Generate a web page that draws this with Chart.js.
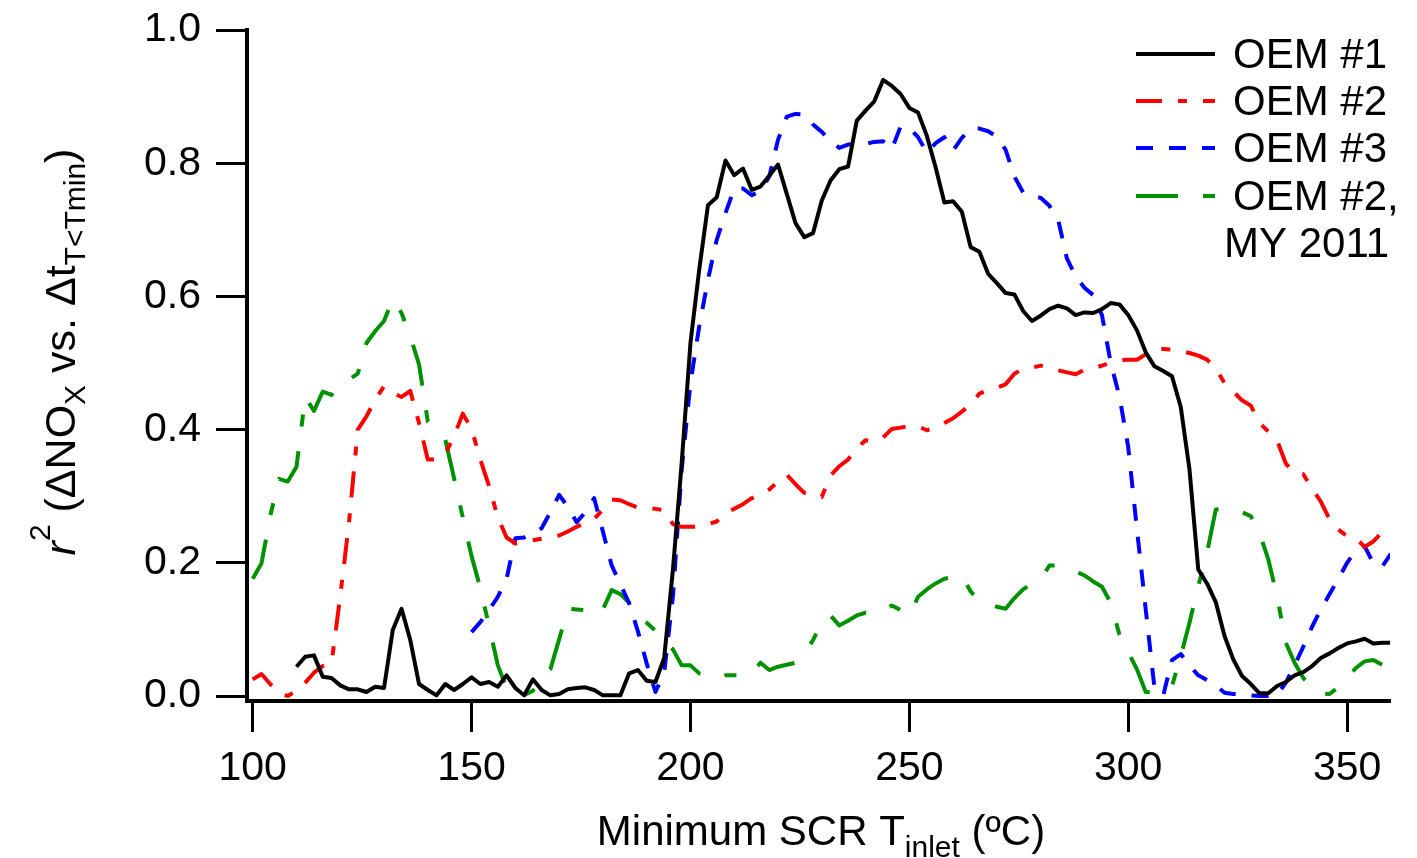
<!DOCTYPE html>
<html>
<head>
<meta charset="utf-8">
<script src="https://cdn.jsdelivr.net/npm/chart.js@4/dist/chart.umd.min.js"></script>
<style>
  html, body { margin: 0; padding: 0; background: #fff; }
  #chart { display: block; }
</style>
</head>
<body>
<canvas id="chart" width="1417" height="858"></canvas>
<script>
// minimum SCR inlet temperature (ºC), 2 degree steps
const temps = [
  100, 102, 104, 106, 108, 110, 112, 114, 116, 118, 120, 122, 124, 126, 128, 130, 132, 134, 136, 138,
  140, 142, 144, 146, 148, 150, 152, 154, 156, 158, 160, 162, 164, 166, 168, 170, 172, 174, 176, 178,
  180, 182, 184, 186, 188, 190, 192, 194, 196, 198, 200, 202, 204, 206, 208, 210, 212, 214, 216, 218,
  220, 222, 224, 226, 228, 230, 232, 234, 236, 238, 240, 242, 244, 246, 248, 250, 252, 254, 256, 258,
  260, 262, 264, 266, 268, 270, 272, 274, 276, 278, 280, 282, 284, 286, 288, 290, 292, 294, 296, 298,
  300, 302, 304, 306, 308, 310, 312, 314, 316, 318, 320, 322, 324, 326, 328, 330, 332, 334, 336, 338,
  340, 342, 344, 346, 348, 350, 352, 354, 356, 358, 360
];

// r^2 values, null where the series has no data
const oem1 = [
  null, null, null, null, null, 0.044, 0.059, 0.061, 0.029, 0.027,
  0.016, 0.010, 0.010, 0.006, 0.014, 0.012, 0.099, 0.131, 0.084, 0.018,
  0.009, 0.001, 0.018, 0.009, 0.018, 0.028, 0.018, 0.021, 0.014, 0.031,
  0.012, 0.001, 0.025, 0.009, 0.001, 0.003, 0.010, 0.012, 0.013, 0.009,
  0.001, 0.001, 0.001, 0.034, 0.039, 0.023, 0.021, 0.057, 0.190, 0.350,
  0.530, 0.640, 0.737, 0.749, 0.804, 0.782, 0.792, 0.760, 0.765, 0.781,
  0.798, 0.754, 0.710, 0.689, 0.695, 0.744, 0.774, 0.791, 0.795, 0.864,
  0.879, 0.893, 0.925, 0.916, 0.904, 0.883, 0.876, 0.841, 0.794, 0.741,
  0.743, 0.727, 0.674, 0.667, 0.634, 0.620, 0.605, 0.603, 0.578, 0.563,
  0.571, 0.581, 0.586, 0.582, 0.572, 0.576, 0.575, 0.581, 0.590, 0.588,
  0.572, 0.549, 0.516, 0.495, 0.488, 0.480, 0.434, 0.340, 0.190, 0.169,
  0.141, 0.090, 0.055, 0.030, 0.018, 0.004, 0.004, 0.015, 0.021, 0.031,
  0.036, 0.045, 0.057, 0.064, 0.072, 0.079, 0.082, 0.086, 0.079, 0.080,
  0.080
];

const oem2 = [
  0.025, 0.033, 0.018, 0.005, 0.000, 0.008, 0.020, 0.035, 0.045, 0.049,
  0.150, 0.260, 0.400, 0.420, 0.445, 0.465, 0.455, 0.449, 0.458, 0.410,
  0.355, 0.355, 0.364, 0.390, 0.424, 0.401, 0.355, 0.315, 0.268, 0.238,
  0.229, 0.231, 0.234, 0.236, 0.238, 0.241, 0.247, 0.254, 0.260, 0.266,
  0.280, 0.295, 0.294, 0.288, 0.283, 0.283, 0.281, 0.279, 0.258, 0.254,
  0.254, 0.254, 0.258, 0.262, 0.275, 0.281, 0.288, 0.297, 0.303, 0.310,
  0.322, 0.332, 0.318, 0.305, 0.302, 0.299, 0.331, 0.345, 0.355, 0.372,
  0.384, 0.382, 0.388, 0.401, 0.403, 0.405, 0.405, 0.399, 0.404, 0.410,
  0.417, 0.427, 0.438, 0.454, 0.459, 0.463, 0.468, 0.484, 0.491, 0.493,
  0.496, 0.493, 0.489, 0.486, 0.483, 0.490, 0.492, 0.496, 0.501, 0.504,
  0.505, 0.505, 0.513, 0.521, 0.521, 0.520, 0.518, 0.515, 0.511, 0.505,
  0.492, 0.470, 0.457, 0.444, 0.436, 0.410, 0.397, 0.384, 0.349, 0.335,
  0.333, 0.311, 0.292, 0.265, 0.250, 0.240, 0.237, 0.224, 0.232, 0.246,
  null
];

const oem3 = [
  null, null, null, null, null, null, null, null, null, null,
  null, null, null, null, null, null, null, null, null, null,
  null, null, null, null, null, 0.096, 0.111, 0.129, 0.149, 0.176,
  0.237, 0.238, 0.244, 0.252, 0.276, 0.302, 0.284, 0.261, 0.276, 0.297,
  0.247, 0.196, 0.168, 0.139, 0.097, 0.049, 0.006, 0.035, 0.150, 0.340,
  0.470, 0.555, 0.625, 0.685, 0.725, 0.762, 0.762, 0.752, 0.758, 0.780,
  0.835, 0.870, 0.874, 0.873, 0.858, 0.847, 0.833, 0.823, 0.828, 0.829,
  0.829, 0.832, 0.833, 0.821, 0.855, 0.853, 0.839, 0.816, 0.830, 0.839,
  0.819, 0.838, 0.852, 0.852, 0.848, 0.840, 0.820, 0.780, 0.756, 0.751,
  0.748, 0.736, 0.715, 0.657, 0.630, 0.613, 0.602, 0.572, 0.500, 0.450,
  0.374, 0.250, 0.130, 0.012, 0.001, 0.054, 0.063, 0.046, 0.031, 0.024,
  0.016, 0.005, 0.003, 0.003, 0.001, 0.000, 0.000, 0.001, 0.020, 0.046,
  0.074, 0.104, 0.130, 0.153, 0.176, 0.200, 0.219, 0.225, 0.199, 0.194,
  0.214
];

const oem2my2011 = [
  0.176, 0.199, 0.270, 0.326, 0.322, 0.344, 0.449, 0.428, 0.457, 0.452,
  0.468, 0.475, 0.484, 0.530, 0.548, 0.563, 0.596, 0.575, 0.540, 0.498,
  0.412, 0.400, 0.385, 0.327, 0.268, 0.210, 0.162, 0.105, 0.046, 0.012,
  0.004, 0.001, 0.008, 0.022, 0.040, 0.085, 0.131, 0.130, 0.129, 0.121,
  0.130, 0.159, 0.153, 0.140, 0.119, 0.110, 0.098, 0.080, 0.070, 0.046,
  0.046, 0.034, 0.030, 0.027, 0.031, 0.031, 0.031, 0.034, 0.050, 0.039,
  0.044, 0.047, 0.050, 0.064, 0.084, 0.111, 0.121, 0.106, 0.113, 0.121,
  0.125, 0.124, 0.128, 0.136, 0.129, 0.121, 0.149, 0.160, 0.169, 0.176,
  0.179, 0.181, 0.157, 0.142, 0.138, 0.134, 0.131, 0.147, 0.160, 0.169,
  0.175, 0.196, 0.196, 0.191, 0.187, 0.181, 0.172, 0.164, 0.140, 0.092,
  0.066, 0.040, 0.006, 0.006, 0.010, 0.015, 0.060, 0.110, 0.165, 0.215,
  0.280, 0.281, 0.281, 0.276, 0.270, 0.245, 0.205, 0.150, 0.080, 0.050,
  0.027, 0.012, 0.004, 0.003, 0.013, 0.028, 0.042, 0.052, 0.054, 0.047,
  null
];

const xTicks = [100, 150, 200, 250, 300, 350];
const yTicks = [0.0, 0.2, 0.4, 0.6, 0.8, 1.0];

const FONT = "'Liberation Sans', Arial, sans-serif";
Chart.defaults.font.family = FONT;
Chart.defaults.color = "#000";

function toPoints(values) {
  const pts = [];
  temps.forEach((t, i) => {
    if (values[i] !== null) pts.push({ x: t, y: values[i] });
  });
  return pts;
}

// draws a run of text pieces (normal / sub / sup / italic) starting at x
function richText(ctx, parts, x, y) {
  let cx = x;
  parts.forEach((p) => {
    ctx.font = (p.italic ? "italic " : "") + p.size + "px " + FONT;
    ctx.fillText(p.t, cx, y + (p.dy || 0));
    cx += ctx.measureText(p.t).width;
  });
}

function richWidth(ctx, parts) {
  let w = 0;
  parts.forEach((p) => {
    ctx.font = (p.italic ? "italic " : "") + p.size + "px " + FONT;
    w += ctx.measureText(p.t).width;
  });
  return w;
}

const titlePlugin = {
  id: "titles",
  afterDraw(chart) {
    const ctx = chart.ctx;
    ctx.save();
    ctx.fillStyle = "#000";
    ctx.textBaseline = "alphabetic";
    ctx.textAlign = "left";

    // x axis title
    const xParts = [
      { t: "Minimum SCR T", size: 42 },
      { t: "inlet", size: 30, dy: 12 },
      { t: " (ºC)", size: 42 }
    ];
    const xw = richWidth(ctx, xParts);
    richText(ctx, xParts, 821 - xw / 2, 845);

    // y axis title, rotated
    const yParts = [
      { t: "r", size: 43, italic: true },
      { t: "2", size: 30, dy: -25 },
      { t: " (ΔNO", size: 43 },
      { t: "X", size: 30, dy: 10 },
      { t: " vs. Δt", size: 43 },
      { t: "T<Tmin", size: 30, dy: 10 },
      { t: ")", size: 43 }
    ];
    const yw = richWidth(ctx, yParts);
    ctx.translate(75, 352);
    ctx.rotate(-Math.PI / 2);
    richText(ctx, yParts, -yw / 2, 0);
    ctx.restore();
  }
};

const legendPlugin = {
  id: "sideLegend",
  afterDraw(chart) {
    const ctx = chart.ctx;
    const rows = [54, 101, 148, 196];
    ctx.save();
    ctx.font = "42px " + FONT;
    ctx.textBaseline = "middle";
    ctx.fillStyle = "#000";
    chart.data.datasets.forEach((ds, i) => {
      const y = rows[i];
      ctx.strokeStyle = ds.borderColor;
      ctx.lineWidth = ds.borderWidth;
      ctx.setLineDash(ds.borderDash || []);
      ctx.beginPath();
      ctx.moveTo(1136, y);
      ctx.lineTo(1215, y);
      ctx.stroke();
      const lines = ds.label.split("\n");
      ctx.fillText(lines[0], 1233, y + 2);
      if (lines[1]) ctx.fillText(lines[1], 1224, y + 49);
    });
    ctx.restore();
  }
};

const axisStyle = {
  grid: {
    display: true,
    drawOnChartArea: false,
    drawTicks: true,
    tickLength: 31,
    tickWidth: 3,
    color: "#000"
  },
  border: { display: true, color: "#000", width: 4 }
};

new Chart(document.getElementById("chart"), {
  type: "line",
  data: {
    datasets: [
      {
        label: "OEM #1",
        data: toPoints(oem1),
        borderColor: "#000000",
        borderWidth: 4,
        borderDash: []
      },
      {
        label: "OEM #2",
        data: toPoints(oem2),
        borderColor: "#ff0000",
        borderWidth: 4,
        borderDash: [26, 16, 9, 16]
      },
      {
        label: "OEM #3",
        data: toPoints(oem3),
        borderColor: "#0000ff",
        borderWidth: 4,
        borderDash: [17, 16]
      },
      {
        label: "OEM #2,\nMY 2011",
        data: toPoints(oem2my2011),
        borderColor: "#009100",
        borderWidth: 4,
        borderDash: [42, 25, 12, 25]
      }
    ]
  },
  options: {
    responsive: false,
    animation: false,
    devicePixelRatio: 1,
    layout: { padding: { top: 30, right: 27, left: 0, bottom: 0 } },
    elements: {
      point: { radius: 0, hoverRadius: 0 },
      line: { tension: 0, fill: false, borderJoinStyle: "round", borderCapStyle: "butt" }
    },
    plugins: {
      legend: { display: false },
      tooltip: { enabled: false }
    },
    scales: {
      x: {
        type: "linear",
        min: 98.7,
        max: 359.8,
        afterBuildTicks(scale) {
          scale.ticks = xTicks.map((v) => ({ value: v }));
        },
        afterFit(scale) {
          scale.height = 157;
        },
        ticks: {
          font: { size: 41 },
          color: "#000",
          padding: 12,
          maxRotation: 0,
          callback: (v) => String(v)
        },
        ...axisStyle
      },
      y: {
        type: "linear",
        min: -0.0075,
        max: 1.0,
        afterBuildTicks(scale) {
          scale.ticks = yTicks.map((v) => ({ value: v }));
        },
        afterFit(scale) {
          scale.width = 247;
          // let the layout padding alone decide where the top sits
          scale.paddingTop = 0;
          scale.paddingBottom = 0;
        },
        ticks: {
          font: { size: 41 },
          color: "#000",
          padding: 15,
          callback: (v) => v.toFixed(1)
        },
        ...axisStyle
      }
    }
  },
  plugins: [titlePlugin, legendPlugin]
});
</script>
</body>
</html>
